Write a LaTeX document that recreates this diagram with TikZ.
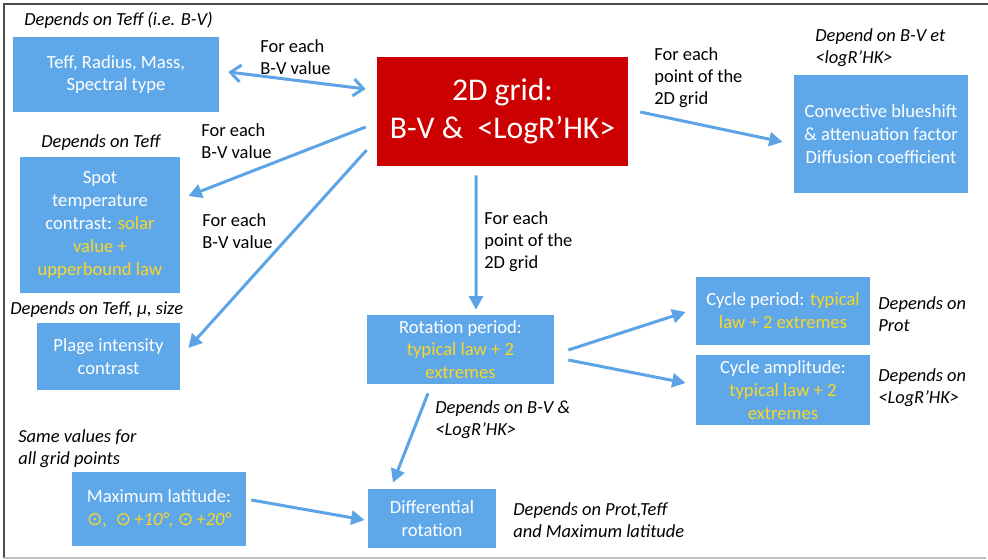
\documentclass[tikz,border=0pt]{standalone}
\usepackage{fontspec}
\setmainfont{Carlito}
\newfontfamily\symf{DejaVu Sans}
\usetikzlibrary{arrows.meta,calc}
\definecolor{boxblue}{RGB}{94,167,232}
\definecolor{arrblue}{RGB}{92,164,230}
\definecolor{gridred}{RGB}{204,0,0}
\definecolor{hiyel}{RGB}{250,214,40}
\newcommand{\yl}[1]{\textcolor{hiyel}{#1}}
\begin{document}
\begin{tikzpicture}[x=0.02cm,y=-0.02cm,
  bbox/.style={fill=boxblue, text=white, align=center, inner sep=2pt, font=\fontsize{10.6}{13}\selectfont},
  gbox/.style={fill=gridred, text=white, align=center, inner sep=2pt, font=\fontsize{18}{21.6}\selectfont},
  lab/.style={anchor=west, align=left, inner sep=0pt, font=\fontsize{10.5}{12.5}\selectfont},
  ilab/.style={anchor=west, align=left, inner sep=0pt, font=\fontsize{10.5}{12.5}\selectfont\itshape},
  arr/.style={draw=arrblue, line width=0.06cm, -{Triangle[length=0.27cm,width=0.28cm]}},
  darr/.style={draw=arrblue, line width=0.06cm, {Straight Barb[length=0.2cm,width=0.34cm]}-{Straight Barb[length=0.2cm,width=0.34cm]}}
]
\useasboundingbox (0,0) rectangle (988,560);
% frame
\draw[black!70, line width=0.04cm] (4,558) -- (4,4) -- (988,4);
\draw[black!25, line width=0.04cm] (4,558) -- (986,558);

% boxes
\node[bbox, minimum width=4.12cm, minimum height=1.5cm] (teff) at (116,74.5) {Teff, Radius, Mass,\\Spectral type};
\node[gbox, minimum width=5.02cm, minimum height=2.18cm] (grid) at (502.5,111.5) {2D grid:\\B-V \&\ \ <LogR’HK>};
\node[bbox, minimum width=3.48cm, minimum height=2.36cm] (conv) at (881,134) {Convective blueshift\\\& attenuation factor\\Diffusion coefficient};
\node[bbox, minimum width=3.2cm, minimum height=2.72cm] (spot) at (100,225) {Spot\\temperature\\contrast: \yl{solar}\\\yl{value +}\\\yl{upperbound law}};
\node[bbox, minimum width=2.86cm, minimum height=1.34cm] (plage) at (108.5,356.5) {Plage intensity\\contrast};
\node[bbox, minimum width=3.74cm, minimum height=1.38cm] (rot) at (460.5,349.5) {Rotation period:\\\yl{typical law + 2}\\\yl{extremes}};
\node[bbox, minimum width=3.48cm, minimum height=1.36cm] (cper) at (783,311) {Cycle period: \yl{typical}\\\yl{law + 2 extremes}};
\node[bbox, minimum width=3.48cm, minimum height=1.4cm] (camp) at (783,390) {Cycle amplitude:\\\yl{typical law + 2}\\\yl{extremes}};
\node[bbox, minimum width=3.48cm, minimum height=1.48cm] (maxlat) at (159,509) {Maximum latitude:\\\yl{\itshape{\symf ⊙},\ \ {\symf ⊙}\,+10°, {\symf ⊙}\,+20°}};
\node[bbox, minimum width=2.56cm, minimum height=1.18cm] (diff) at (432,518.5) {Differential\\rotation};

% labels
\node[ilab] (l1) at (24,20) {Depends on Teff (i.e. B-V)};
\node[lab] (l2) at (260,57) {For each\\B-V value};
\node[lab] (l3) at (201,141) {For each\\B-V value};
\node[lab] (l4) at (202,231) {For each\\B-V value};
\node[ilab] (l5) at (41,143) {Depends on Teff};
\node[ilab] (l6) at (10,310) {Depends on Teff, μ, size};
\node[lab] (l7) at (654,78) {For each\\point of the\\2D grid};
\node[ilab] (l8) at (815,48) {Depend on B-V et\\<logR’HK>};
\node[lab] (l9) at (484,242) {For each\\point of the\\2D grid};
\node[ilab] (l10) at (435,420) {Depends on B-V \&\\<LogR’HK>};
\node[ilab] (l11) at (878,314) {Depends on\\Prot};
\node[ilab] (l12) at (878,388) {Depends on\\<LogR’HK>};
\node[ilab] (l13) at (18,449) {Same values for\\all grid points};
\node[ilab] (l14) at (513,520) {Depends on Prot,Teff\\and Maximum latitude};

% arrows
\draw[darr] ($(teff.east)+(9,-2.5)$) -- ($(grid.west)+(-11,-22.5)$);
\draw[arr] ($(grid.west)+(-11,15.5)$) -- ($(spot.east)+(8,-29)$);
\draw[arr] ($(grid.west)+(-10,38.5)$) -- ($(plage.east)+(8,-8.5)$);
\draw[arr] ($(grid.east)+(12,0.5)$) -- ($(conv.west)+(-11,8)$);
\draw[arr] ($(grid.south)+(-26.5,9)$) -- ($(rot.north)+(15.5,-5)$);
\draw[arr] ($(rot.east)+(14,0.5)$) -- ($(cper.west)+(-10,1)$);
\draw[arr] ($(rot.east)+(14,10.5)$) -- ($(camp.west)+(-10,-7)$);
\draw[arr] ($(rot.south)+(-32.5,9)$) -- ($(diff.north)+(-39,-6)$);
\draw[arr] ($(maxlat.east)+(5,-9)$) -- ($(diff.west)+(-3,1.5)$);
\end{tikzpicture}
\end{document}
